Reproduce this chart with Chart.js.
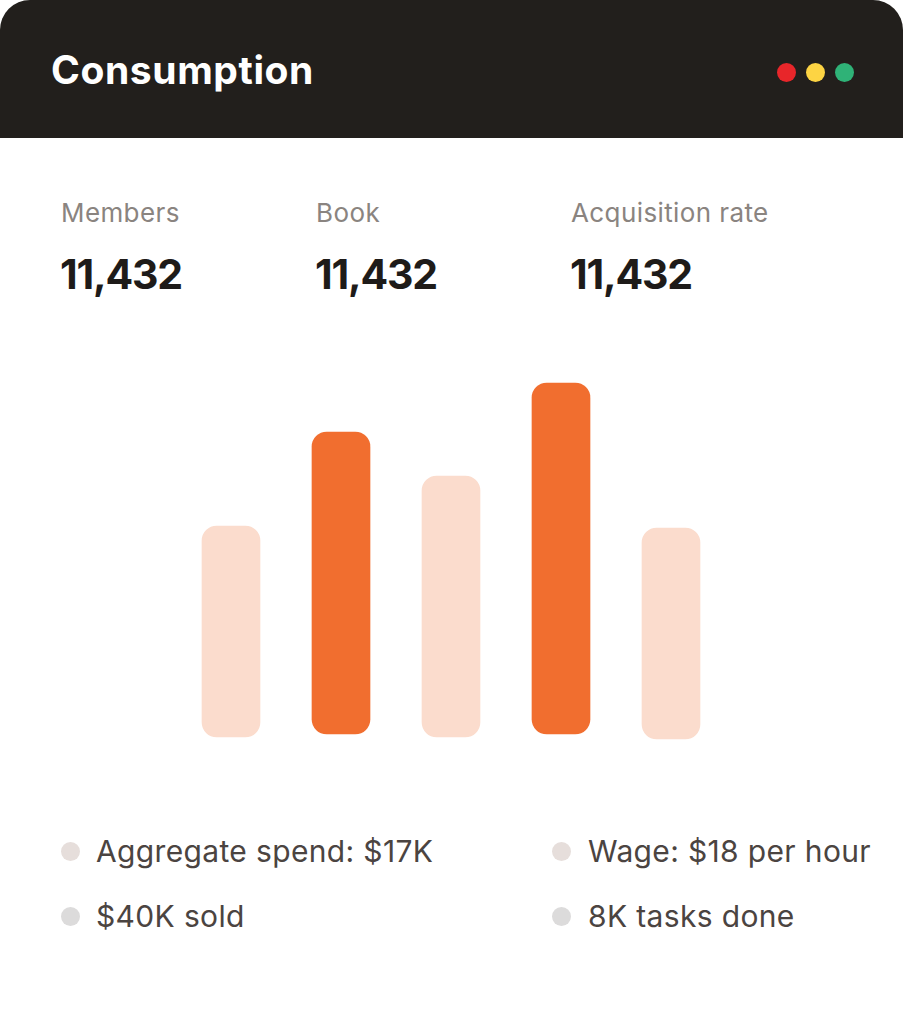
<!DOCTYPE html>
<html>
<head>
<meta charset="utf-8">
<script src="https://cdn.jsdelivr.net/npm/chart.js@4"></script>
<style>
  body { margin: 0; background: #ffffff; font-family: Inter, "Noto Sans", sans-serif; }
  #page { position: relative; width: 904px; height: 1024px; overflow: hidden; }
  #header { position: absolute; left: 0; top: 0; width: 903px; height: 138px; background: #221f1c; border-radius: 30px 30px 0 0; }
  #title { position: absolute; left: 51px; top: 50px; font-size: 39px; line-height: 1; font-weight: 700; color: #ffffff; letter-spacing: 0.6px; }
  .dot { position: absolute; top: 63px; width: 19px; height: 19px; border-radius: 50%; }
  .stat-label { position: absolute; top: 200px; font-size: 26px; line-height: 1; color: #8a8480; letter-spacing: 0.4px; }
  .stat-value { position: absolute; top: 254px; font-size: 41px; line-height: 1; font-weight: 700; color: #1e1b19; letter-spacing: -1.2px; }
  .item { position: absolute; font-size: 30px; line-height: 1; color: #4b4441; letter-spacing: 0.35px; }
  .bullet { position: absolute; width: 19px; height: 19px; border-radius: 50%; }
  #chartBox { position: absolute; left: 176px; top: 340px; width: 550px; height: 400px; }
</style>
</head>
<body>
<div id="page">
  <div id="header">
    <div id="title"></div>
  </div>
  <div id="chartBox"><canvas id="barChart"></canvas></div>
</div>
<script>
const title = "Consumption";

const statLabels = ["Members", "Book", "Acquisition rate"];
const statValues = ["11,432", "11,432", "11,432"];

const categories = ["1", "2", "3", "4", "5"];
// bars float a little, bottoms are not all on the same line
const barLow = [3, 6, 3, 6, 1];
const barHigh = [214, 308, 264, 357, 212];

const listItems = ["Aggregate spend: $17K", "Wage: $18 per hour", "$40K sold", "8K tasks done"];

const page = document.getElementById("page");
document.getElementById("title").textContent = title;

// window dots
const dotColors = ["#e8262a", "#fdd443", "#2fb277"];
dotColors.forEach((c, i) => {
  const d = document.createElement("div");
  d.className = "dot";
  d.style.left = (777 + i * 29) + "px";
  d.style.background = c;
  document.getElementById("header").appendChild(d);
});

// stats row
const statX = [61, 316, 571];
statLabels.forEach((lab, i) => {
  const l = document.createElement("div");
  l.className = "stat-label";
  l.style.left = statX[i] + "px";
  l.textContent = lab;
  page.appendChild(l);
  const v = document.createElement("div");
  v.className = "stat-value";
  v.style.left = (statX[i] - 1) + "px";
  v.textContent = statValues[i];
  page.appendChild(v);
});

// bullet list under the chart
const bulletColors = ["#e6dedb", "#e6dedb", "#dcdbdb", "#dcdbdb"];
listItems.forEach((txt, i) => {
  const col = i % 2, row = Math.floor(i / 2);
  const b = document.createElement("div");
  b.className = "bullet";
  b.style.left = (col ? 552 : 61) + "px";
  b.style.top = (842 + row * 65) + "px";
  b.style.background = bulletColors[i];
  page.appendChild(b);
  const t = document.createElement("div");
  t.className = "item";
  t.style.left = (col ? 588 : 96) + "px";
  t.style.top = (836 + row * 65) + "px";
  t.textContent = txt;
  page.appendChild(t);
});

const ctx = document.getElementById("barChart").getContext("2d");
new Chart(ctx, {
  type: "bar",
  data: {
    labels: categories,
    datasets: [
      {
        data: categories.map((c, i) => [barLow[i], barHigh[i]]),
        backgroundColor: (c) => (c.dataIndex % 2 ? "#f16e2f" : "#fbdccd"),
        borderRadius: 15,
        borderSkipped: false,
        barThickness: 58,
      },
    ],
  },
  options: {
    responsive: true,
    maintainAspectRatio: false,
    animation: false,
    layout: { padding: 0 },
    plugins: {
      legend: { display: false },
      tooltip: { enabled: false },
    },
    scales: {
      x: { display: false },
      y: { display: false, min: 0, max: 400 },
    },
  },
});
</script>
</body>
</html>
